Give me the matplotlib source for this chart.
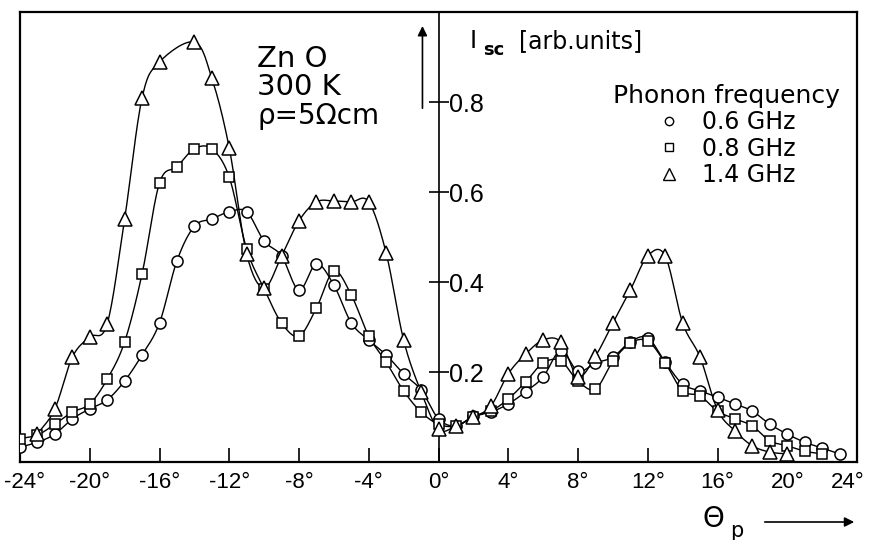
import numpy as np
import matplotlib.pyplot as plt
from matplotlib.lines import Line2D
from matplotlib.transforms import ScaledTranslation

plt.rcParams['font.family'] = ['DejaVu Sans']
tick_font = 'Liberation Sans'

# scattered intensity vs. angle theta_p, one series per phonon frequency
theta_06 = list(range(-24, 24))
isc_06 = [0.033, 0.044, 0.062, 0.096, 0.118, 0.138, 0.180, 0.238, 0.309, 0.447,
          0.524, 0.540, 0.556, 0.556, 0.491, 0.458, 0.382, 0.440, 0.393, 0.309,
          0.271, 0.238, 0.196, 0.160, 0.096, 0.080, 0.102, 0.111, 0.129, 0.156,
          0.189, 0.247, 0.202, 0.220, 0.233, 0.267, 0.276, 0.222, 0.173, 0.158,
          0.144, 0.129, 0.113, 0.084, 0.062, 0.044, 0.031, 0.018]

theta_08 = list(range(-24, 23))
isc_08 = [0.052, 0.060, 0.084, 0.111, 0.129, 0.184, 0.267, 0.418, 0.620, 0.656,
          0.696, 0.696, 0.633, 0.473, 0.385, 0.309, 0.280, 0.342, 0.424, 0.371,
          0.280, 0.222, 0.158, 0.111, 0.084, 0.080, 0.100, 0.113, 0.140, 0.178,
          0.220, 0.225, 0.180, 0.162, 0.224, 0.264, 0.269, 0.220, 0.158, 0.147,
          0.113, 0.096, 0.080, 0.047, 0.036, 0.024, 0.018]

theta_14 = list(range(-23, -15)) + list(range(-14, 21))
isc_14 = [0.062, 0.118, 0.233, 0.278, 0.307, 0.540, 0.809, 0.889,
          0.933, 0.853, 0.698, 0.462, 0.387, 0.458, 0.536, 0.578, 0.580, 0.578,
          0.578, 0.464, 0.271, 0.156, 0.073, 0.080, 0.100, 0.124, 0.196, 0.240,
          0.271, 0.267, 0.190, 0.235, 0.309, 0.382, 0.458, 0.458, 0.309, 0.233,
          0.116, 0.069, 0.036, 0.022, 0.018]

freq_labels = ['0.6 GHz', '0.8 GHz', '1.4 GHz']
x_ticks = list(range(-24, 25, 4))
y_ticks = [0.2, 0.4, 0.6, 0.8]


def smooth(x, y, n=16):
    # Catmull-Rom curve through the measured points
    x = np.asarray(x, float)
    y = np.asarray(y, float)
    px = np.concatenate([[2 * x[0] - x[1]], x, [2 * x[-1] - x[-2]]])
    py = np.concatenate([[2 * y[0] - y[1]], y, [2 * y[-1] - y[-2]]])
    t = np.linspace(0, 1, n, endpoint=False)
    xs, ys = [], []
    for i in range(1, len(px) - 2):
        for p, out in ((px, xs), (py, ys)):
            p0, p1, p2, p3 = p[i - 1], p[i], p[i + 1], p[i + 2]
            out.append(0.5 * (2 * p1 + (-p0 + p2) * t
                              + (2 * p0 - 5 * p1 + 4 * p2 - p3) * t ** 2
                              + (-p0 + 3 * p1 - 3 * p2 + p3) * t ** 3))
    xs.append([x[-1]])
    ys.append([y[-1]])
    return np.concatenate(xs), np.concatenate(ys)


fig = plt.figure(figsize=(8.71, 5.4), dpi=100)
ax = fig.add_axes([20 / 871, 1 - 462 / 540, 837 / 871, 450 / 540])

series = [(theta_06, isc_06, 'o', 8),
          (theta_08, isc_08, 's', 6.5),
          (theta_14, isc_14, '^', 10)]
for th, val, mk, ms in series:
    sx, sy = smooth(th, val)
    ax.plot(sx, sy, color='k', lw=1.0, zorder=2)
for th, val, mk, ms in series:
    ax.plot(th, val, ls='none', marker=mk, ms=ms, mfc='white', mec='k',
            mew=1.1, zorder=3)

ax.set_xlim(-24, 24)
ax.set_ylim(0, 1.0)

# frame, with the intensity axis running through theta = 0
for side in ('left', 'top', 'bottom'):
    ax.spines[side].set_linewidth(1.6)
ax.spines['right'].set_position(('data', 0))
ax.spines['right'].set_linewidth(1.2)
ax.axvline(24, color='k', lw=1.6, clip_on=False)

ax.yaxis.tick_right()
ax.set_yticks(y_ticks)
ax.set_yticklabels([f'{v:.1f}' for v in y_ticks], family=tick_font)
ax.tick_params(axis='y', direction='inout', length=14, width=1.2, pad=0.5,
               labelsize=18)
ax.set_xticks(x_ticks)
ax.set_xticklabels([f'{v}°' for v in x_ticks], family=tick_font)
ax.tick_params(axis='x', direction='in', length=10, width=1.2, pad=7,
               labelsize=16)

# nudge the end labels inward so they stay on the canvas
ticks = ax.xaxis.get_major_ticks()
for tk, dx in ((ticks[0], 3), (ticks[-1], -7)):
    tk.label1.set_transform(tk.label1.get_transform()
                            + ScaledTranslation(dx / 72, 0, fig.dpi_scale_trans))

ax.annotate('', xy=(-0.92, 0.975), xytext=(-0.92, 0.78),
            arrowprops=dict(arrowstyle='-|>', color='k', lw=1.2,
                            mutation_scale=14))
ax.text(1.78, 0.936, 'I', fontsize=17, va='center')
ax.text(2.55, 0.915, 'sc', fontsize=13, fontweight='bold', va='center')
ax.text(4.6, 0.936, '[arb.units]', fontsize=17, va='center')

ax.text(-10.4, 0.896, 'Zn O', fontsize=21, va='center')
ax.text(-10.4, 0.833, '300 K', fontsize=21, va='center')
ax.text(-10.4, 0.770, 'ρ=5Ωcm', fontsize=20, va='center')

handles = [Line2D([], [], ls='none', marker=m, ms=s, mfc='white', mec='k',
                  mew=1.0) for m, s in (('o', 6), ('s', 5.5), ('^', 8))]
ax.legend(handles, freq_labels, title='Phonon frequency', frameon=False,
          fontsize=17, title_fontsize=18, loc='upper left',
          bbox_to_anchor=(0.708, 0.84), handlelength=1.0, handletextpad=0.9,
          labelspacing=0.1, borderpad=0, borderaxespad=0)

fig.text(713 / 871, 1 - 519 / 540, 'Θ', fontsize=20, ha='center', va='center')
fig.text(737 / 871, 1 - 531 / 540, 'p', fontsize=15, ha='center', va='center')
ax.annotate('', xy=(857 / 871, 1 - 522 / 540), xycoords='figure fraction',
            xytext=(762 / 871, 1 - 522 / 540), textcoords='figure fraction',
            arrowprops=dict(arrowstyle='-|>', color='k', lw=1.2,
                            mutation_scale=14))

fig.savefig('out.png', dpi=100)
